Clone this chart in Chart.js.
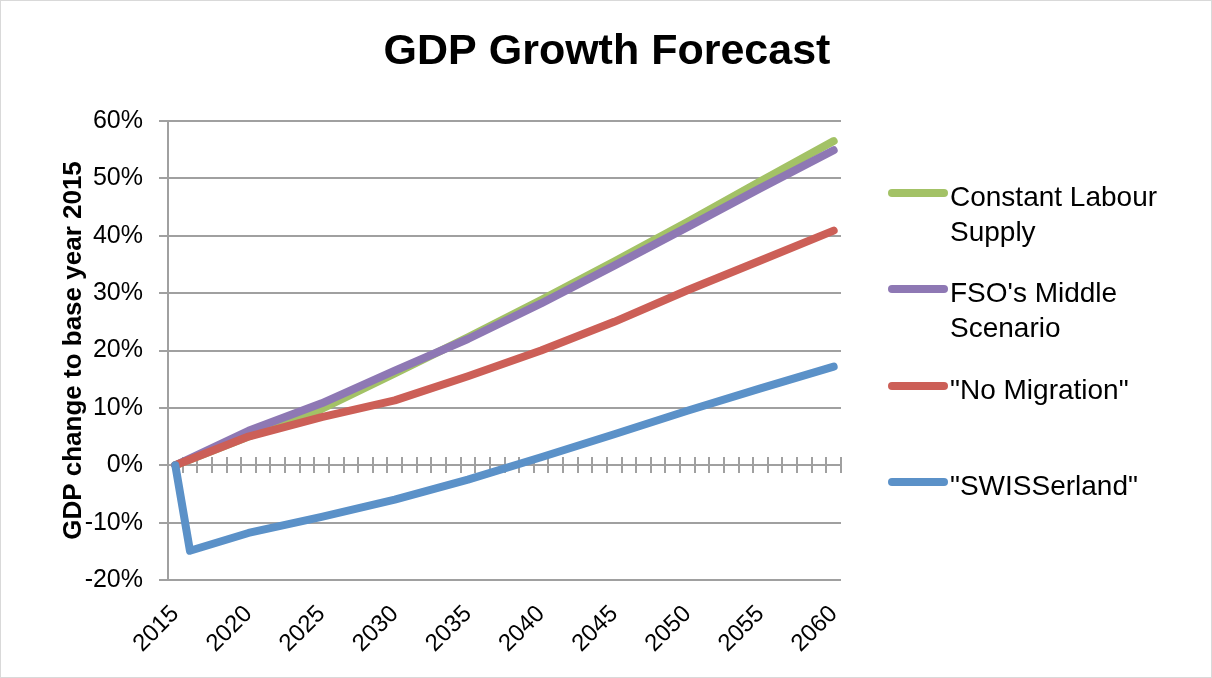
<!DOCTYPE html>
<html>
<head>
<meta charset="utf-8">
<title>GDP Growth Forecast</title>
<script src="https://cdn.jsdelivr.net/npm/chart.js@4.4.1/dist/chart.umd.min.js"></script>
<style>
  html, body { margin: 0; padding: 0; background: #fff; }
  #wrap { position: relative; width: 1210px; height: 676px; border: 1px solid #d9d9d9; font-family: "Liberation Sans", Arial, sans-serif; }
  #chart { position: absolute; left: 0; top: 0; }
  #legend { position: absolute; left: 887px; top: 0; width: 320px; }
  .item { position: absolute; left: 0; display: flex; align-items: flex-start; }
  .sw { width: 60px; height: 8px; border-radius: 4px; margin-top: 10px; flex: none; }
  .lbl { font-size: 28px; line-height: 35px; color: #000; width: 250px; margin-left: 2px; }
</style>
</head>
<body>
<div id="wrap">
  <canvas id="chart" width="1210" height="676"></canvas>
  <div id="legend"></div>
</div>
<script>
// ---- data ----
const years = ["2015","2016","2017","2018","2019","2020","2021","2022","2023","2024",
               "2025","2026","2027","2028","2029","2030","2031","2032","2033","2034",
               "2035","2036","2037","2038","2039","2040","2041","2042","2043","2044",
               "2045","2046","2047","2048","2049","2050","2051","2052","2053","2054",
               "2055","2056","2057","2058","2059","2060"];

const mainYears     = ["2015","2020","2025","2030","2035","2040","2045","2050","2055","2060"];
const constLabour   = [0, 5.0, 9.8, 16.0, 22.3, 28.8, 35.5, 42.4, 49.5, 56.5];
const fsoMiddle     = [0, 6.0, 10.8, 16.5, 22.0, 28.2, 34.8, 41.5, 48.3, 54.9];
const noMigration   = [0, 5.0, 8.4, 11.3, 15.5, 20.0, 25.0, 30.5, 35.7, 40.9];

const swissYears    = ["2015","2016","2020","2025","2030","2035","2040","2045","2050","2055","2060"];
const swisserland   = [0, -14.9, -11.8, -9.0, -6.0, -2.5, 1.4, 5.4, 9.5, 13.4, 17.2];

const yTicks = { min: -20, max: 60, step: 10 };

const series = [
  { name: "Constant Labour Supply", x: mainYears,  y: constLabour, color: "#a3c266", order: 4 },
  { name: "FSO's Middle Scenario",  x: mainYears,  y: fsoMiddle,   color: "#8e78b4", order: 3 },
  { name: "\"No Migration\"",        x: mainYears,  y: noMigration, color: "#cc5f57", order: 2 },
  { name: "\"SWISSerland\"",         x: swissYears, y: swisserland, color: "#5b91c8", order: 1 }
];

const FONT = '"Liberation Sans", Arial, sans-serif';
const GRID = "#a0a0a0";
Chart.defaults.font.family = FONT;
Chart.defaults.color = "#000";

// legend (html, because the labels wrap like the original)
const legendEl = document.getElementById("legend");
series.forEach((s, i) => {
  const item = document.createElement("div");
  item.className = "item";
  item.style.top = (177.5 + i * 96.5) + "px";
  item.innerHTML = '<div class="sw" style="background:' + s.color + '"></div><div class="lbl"></div>';
  item.querySelector(".lbl").textContent = s.name;
  legendEl.appendChild(item);
});

// tick marks crossing the 0% line (one axis up, one down)
const tickAxis = (len) => ({
  type: "category",
  offset: true,
  position: { y: 0 },
  ticks: { display: false },
  border: { display: false },
  grid: { offset: true, drawOnChartArea: false, color: GRID, lineWidth: 2, tickLength: len }
});

new Chart(document.getElementById("chart"), {
  type: "line",
  data: {
    labels: years,
    datasets: series.map(s => ({
      label: s.name,
      data: s.x.map((yr, i) => ({ x: yr, y: s.y[i] })),
      borderColor: s.color,
      backgroundColor: s.color,
      borderWidth: 8,
      borderCapStyle: "round",
      borderJoinStyle: "round",
      pointRadius: 0,
      tension: 0,
      order: s.order,
      xAxisID: "x"
    }))
  },
  options: {
    responsive: false,
    animation: false,
    layout: { padding: { left: 2, right: 0, top: 0, bottom: 0 } },
    plugins: {
      legend: { display: false },
      tooltip: { enabled: false },
      title: {
        display: true,
        text: "GDP Growth Forecast",
        color: "#000",
        font: { size: 43, weight: "bold" },
        padding: { top: 25, bottom: 43.4 }
      }
    },
    scales: {
      x: {
        type: "category",
        offset: true,
        grid: { display: false },
        border: { display: false },
        ticks: {
          autoSkip: false,
          minRotation: 45,
          maxRotation: 45,
          padding: 12,
          font: { size: 24 },
          callback: function (v) {
            const yr = this.getLabelForValue(v);
            return Number(yr) % 5 === 0 ? yr : "";
          }
        },
        afterFit: s => { s.width = s.width; s.height = 97; }
      },
      xUp: tickAxis(8),
      xDown: tickAxis(-8),
      y: {
        min: yTicks.min,
        max: yTicks.max,
        ticks: { stepSize: yTicks.step, padding: 16, font: { size: 25 }, callback: v => v + "%" },
        grid: { color: GRID, lineWidth: 2, tickLength: 9 },
        border: { color: GRID, width: 2 },
        title: {
          display: true,
          text: "GDP change to base year 2015",
          font: { size: 26, weight: "bold" },
          padding: { top: 55.4, bottom: 4 }
        },
        afterFit: s => { s.width = 165; }
      },
      // empty right-hand space kept for the legend
      yLegendSpace: {
        type: "linear",
        position: "right",
        display: true,
        ticks: { display: false },
        grid: { display: false },
        border: { display: false },
        afterFit: s => { s.width = 370; }
      }
    }
  }
});
</script>
</body>
</html>
